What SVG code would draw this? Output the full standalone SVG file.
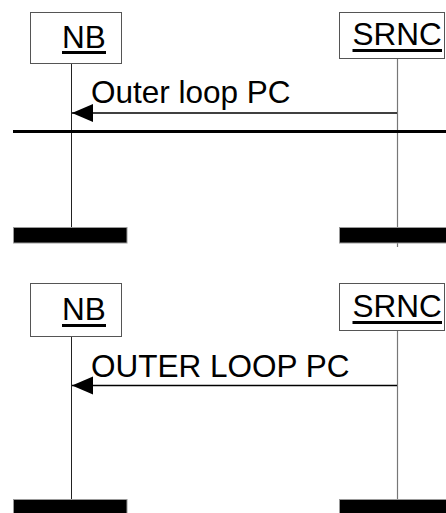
<svg xmlns="http://www.w3.org/2000/svg" width="446" height="513" viewBox="0 0 446 513">
  <defs>
    <marker id="arrow" markerUnits="userSpaceOnUse" markerWidth="22" markerHeight="20" refX="21" refY="9" orient="auto">
      <path d="M0,0 L21,9 L0,18 z" fill="#000"/>
    </marker>
    <style>
      .box { fill: #fff; stroke: #555; stroke-width: 1; }
      .name { font-family: "Liberation Sans", Arial, sans-serif; font-size: 31.5px; fill: #000; }
      .uline { stroke: #000; stroke-width: 3; }
      .label { font-family: "Liberation Sans", Arial, sans-serif; font-size: 31.5px; fill: #000; }
      .life-nb { stroke: #222; stroke-width: 1; }
      .life-srnc { stroke: #777; stroke-width: 1.2; }
      .msg { stroke: #000; stroke-width: 1.5; marker-end: url(#arrow); }
      .bar { fill: #000; stroke: #999; stroke-width: 1; }
      .sep { stroke: #000; stroke-width: 3; }
    </style>
  </defs>

  <!-- Diagram 1 -->
  <g id="connectors1">
    <line class="life-nb" x1="71.5" y1="64" x2="71.5" y2="227"/>
    <line class="life-srnc" x1="397.5" y1="59" x2="397.5" y2="247"/>
    <line class="msg" x1="397" y1="113" x2="72" y2="113"/>
    <text class="label" x="91" y="103">Outer loop PC</text>
    <line class="sep" x1="13" y1="131.5" x2="446" y2="131.5"/>
  </g>
  <g id="nb1">
    <rect class="box" x="30.5" y="12.5" width="91" height="51"/>
    <text class="name" x="62" y="47.5">NB</text>
    <line class="uline" x1="62" y1="52.5" x2="106" y2="52.5"/>
  </g>
  <g id="srnc1">
    <rect class="box" x="339.5" y="12.5" width="105" height="46"/>
    <text class="name" x="352.5" y="45">SRNC</text>
    <line class="uline" x1="352.5" y1="50.5" x2="442" y2="50.5"/>
  </g>
  <g id="nb1-end">
    <rect class="bar" x="13.5" y="227.5" width="113.5" height="15.5"/>
  </g>
  <g id="srnc1-end">
    <rect class="bar" x="339.5" y="227.5" width="107" height="15.5"/>
  </g>

  <!-- Diagram 2 -->
  <g id="connectors2">
    <line class="life-nb" x1="71.5" y1="336" x2="71.5" y2="499"/>
    <line class="life-srnc" x1="397.5" y1="331" x2="397.5" y2="513"/>
    <line class="msg" x1="397" y1="385.5" x2="72" y2="385.5"/>
    <text class="label" x="91" y="376.5">OUTER LOOP PC</text>
  </g>
  <g id="nb2">
    <rect class="box" x="30.5" y="283.5" width="91" height="53"/>
    <text class="name" x="62" y="320">NB</text>
    <line class="uline" x1="62" y1="325.5" x2="106" y2="325.5"/>
  </g>
  <g id="srnc2">
    <rect class="box" x="339.5" y="283.5" width="105" height="47"/>
    <text class="name" x="352.5" y="317">SRNC</text>
    <line class="uline" x1="352.5" y1="322.5" x2="442" y2="322.5"/>
  </g>
  <g id="nb2-end">
    <rect class="bar" x="13.5" y="499.5" width="113.5" height="15"/>
  </g>
  <g id="srnc2-end">
    <rect class="bar" x="339.5" y="499.5" width="107" height="15"/>
  </g>
</svg>
